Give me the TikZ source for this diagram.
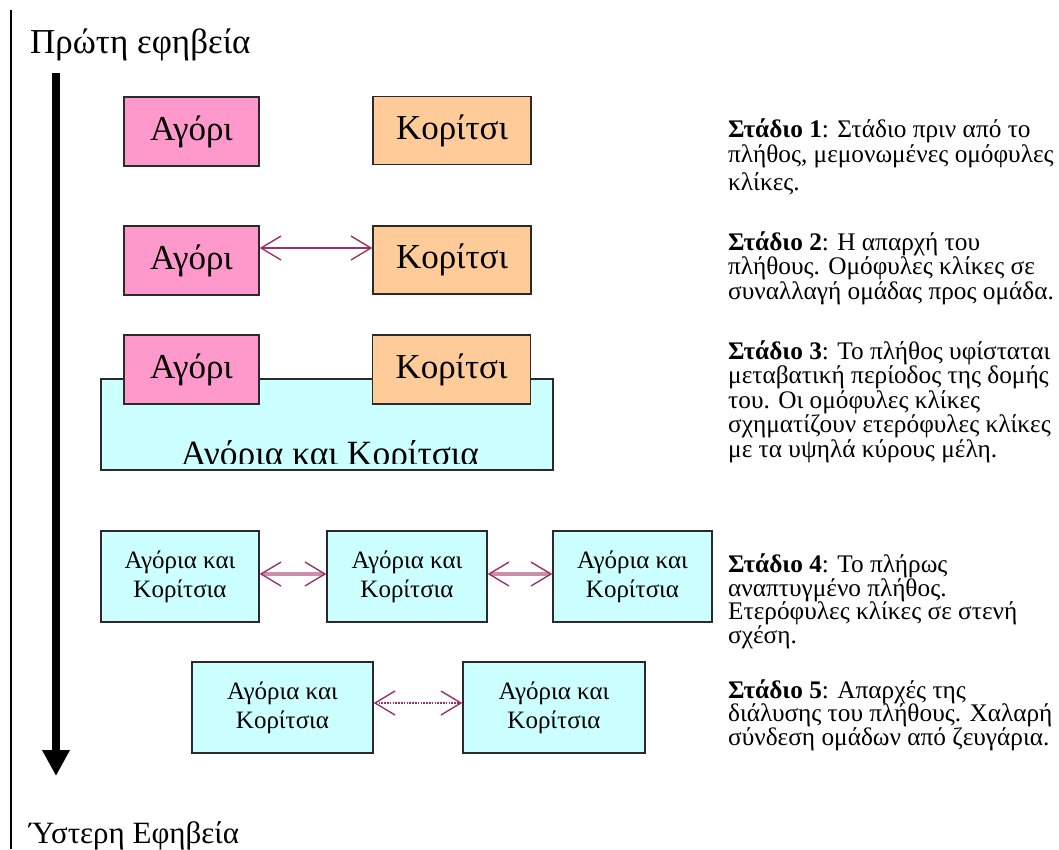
\documentclass[tikz,border=0pt]{standalone}
\usepackage{fontspec}
\setmainfont{Liberation Serif}
\usetikzlibrary{arrows.meta}
\definecolor{boypink}{HTML}{FF99CC}
\definecolor{girlorange}{HTML}{FFCC99}
\definecolor{mixcyan}{HTML}{CCFFFF}
\definecolor{linkmauve}{HTML}{993366}
\definecolor{linkpale}{HTML}{CC8FAA}
\definecolor{boxedge}{HTML}{2A2A2A}
\tikzset{barbtip/.tip={Straight Barb[length=20pt,width=24pt,line width=1.4pt,color=linkmauve]}}
\begin{document}
\lineskiplimit=-50pt\relax
\begin{tikzpicture}[x=1pt,y=-1pt,
  boxbase/.style={draw=boxedge,line width=1.4pt,inner sep=0pt},
  boy/.style={boxbase,fill=boypink,minimum width=135pt,minimum height=69pt,font=\fontsize{35}{40}\selectfont},
  girl/.style={boxbase,fill=girlorange,minimum width=158pt,minimum height=68pt,font=\fontsize{35}{40}\selectfont},
  mixbox/.style={boxbase,fill=mixcyan,minimum height=91pt,align=center,font=\fontsize{25}{29}\selectfont},
  link/.style={draw=linkmauve,line width=1.4pt,barbtip-barbtip},
  thicklink/.style={draw=linkpale,line width=3.5pt,barbtip-barbtip},
  dotlink/.style={draw=linkmauve,line width=1.4pt,dash pattern=on 1.6pt off 1.2pt,barbtip-barbtip},
  stagetext/.style={align=left,inner sep=0pt,anchor=base west,font=\fontsize{25.3}{24.5}\selectfont},
  tightstage/.style={stagetext,font=\fontsize{25.3}{23.5}\selectfont},
  heading/.style={inner sep=0pt,anchor=base west,font=\fontsize{35}{40}\selectfont}
]
\useasboundingbox (0,0) rectangle (1059,849);
\fill[white] (0,0) rectangle (1059,849);

% left rule
\coordinate (ruletop) at (11,10);
\coordinate (rulebot) at (11,849);
\draw[line width=1.4pt,black] (ruletop) -- (rulebot);

% headings
\node[heading] (early) at (30,53) {Πρώτη εφηβεία};
\node[heading,font=\fontsize{31}{36}\selectfont] (late) at (29,843) {Ύστερη Εφηβεία};

% time arrow
\coordinate (tstart) at (56,73);
\coordinate (tend) at (56,776);
\draw[line width=8pt,-{Triangle[length=26pt,width=26pt]}] (tstart) -- (tend);

% stage 1
\node[boy] (a1) at (191.5,131.5) {Αγόρι};
\node[girl] (k1) at (452,130.5) {Κορίτσι};

% stage 2
\node[boy] (a2) at (191.5,260.5) {Αγόρι};
\node[girl] (k2) at (452,260) {Κορίτσι};
\draw[link] (a2.east |- 0,248) -- (k2.west |- 0,248);

% stage 3
\node[mixbox,minimum width=452pt] (m3) at (327,424.5) {};
\begin{scope}
  \clip (102,380) rectangle (552,463);
  \node[inner sep=0pt,anchor=base,font=\fontsize{35.5}{40}\selectfont] (m3txt) at (330,465) {Αγόρια και Κορίτσια};
\end{scope}
\node[boy] (a3) at (191.5,369.5) {Αγόρι};
\node[girl,minimum height=69pt] (k3) at (451.5,369.5) {Κορίτσι};

% stage 4
\node[mixbox,minimum width=158pt] (m41) at (180,576.5) {Αγόρια και\\Κορίτσια};
\node[mixbox,minimum width=160pt] (m42) at (407,576.5) {Αγόρια και\\Κορίτσια};
\node[mixbox,minimum width=159pt] (m43) at (632.5,576.5) {Αγόρια και\\Κορίτσια};
\draw[thicklink] (m41.east |- 0,574) -- (m42.west |- 0,574);
\draw[thicklink] (m42.east |- 0,574) -- (m43.west |- 0,574);

% stage 5
\node[mixbox,minimum width=181pt] (m51) at (282.5,707.5) {Αγόρια και\\Κορίτσια};
\node[mixbox,minimum width=182pt] (m52) at (554,707.5) {Αγόρια και\\Κορίτσια};
\draw[dotlink] (m51.east |- 0,703) -- (m52.west |- 0,703);

% descriptions (anchored at the baseline of their last line)
\node[stagetext] (s1) at (728,190) {\textbf{Στάδιο 1}: Στάδιο πριν από το\\πλήθος, μεμονωμένες ομόφυλες\\[3.5pt]κλίκες.};
\node[stagetext] (s2) at (728,299) {\textbf{Στάδιο 2}: Η απαρχή του\\πλήθους. Ομόφυλες κλίκες σε\\συναλλαγή ομάδας προς ομάδα.};
\node[stagetext] (s3) at (728,457) {\textbf{Στάδιο 3}: Το πλήθος υφίσταται\\μεταβατική περίοδος της δομής\\του. Οι ομόφυλες κλίκες\\σχηματίζουν ετερόφυλες κλίκες\\με τα υψηλά κύρους μέλη.};
\node[tightstage] (s4) at (728,643) {\textbf{Στάδιο 4}: Το πλήρως\\αναπτυγμένο πλήθος.\\Ετερόφυλες κλίκες σε στενή\\σχέση.};
\node[tightstage] (s5) at (728,745) {\textbf{Στάδιο 5}: Απαρχές της\\διάλυσης του πλήθους. Χαλαρή\\σύνδεση ομάδων από ζευγάρια.};
\end{tikzpicture}
\end{document}
